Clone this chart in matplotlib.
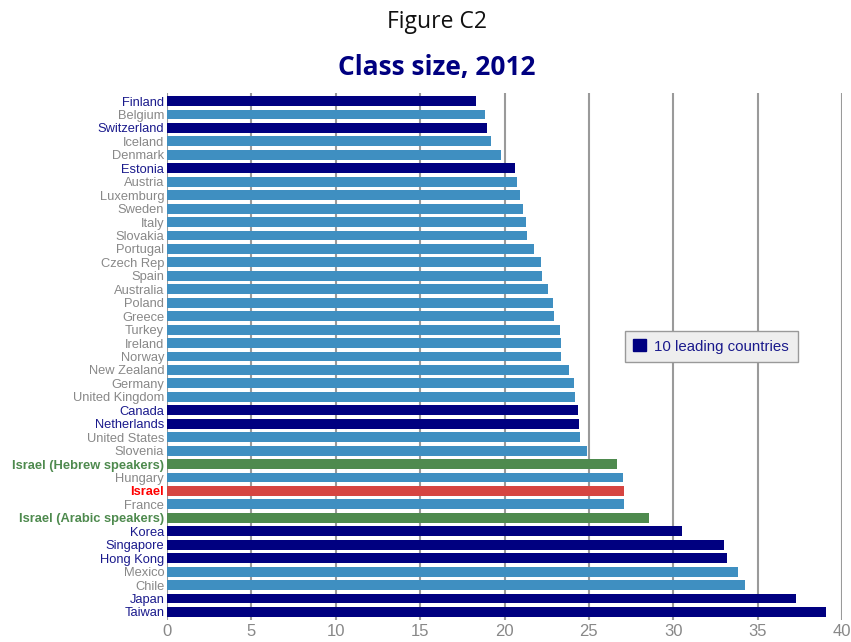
import matplotlib
matplotlib.use("Agg")
import matplotlib.pyplot as plt
from matplotlib.patches import Patch

countries = ["Finland", "Belgium", "Switzerland", "Iceland", "Denmark", "Estonia",
             "Austria", "Luxemburg", "Sweden", "Italy", "Slovakia", "Portugal",
             "Czech Rep", "Spain", "Australia", "Poland", "Greece", "Turkey",
             "Ireland", "Norway", "New Zealand", "Germany", "United Kingdom",
             "Canada", "Netherlands", "United States", "Slovenia",
             "Israel (Hebrew speakers)", "Hungary", "Israel", "France",
             "Israel (Arabic speakers)", "Korea", "Singapore", "Hong Kong",
             "Mexico", "Chile", "Japan", "Taiwan"]
class_size = [18.3, 18.85, 18.95, 19.2, 19.8, 20.6,
              20.75, 20.9, 21.1, 21.3, 21.35, 21.75,
              22.15, 22.2, 22.6, 22.85, 22.95, 23.3,
              23.35, 23.35, 23.8, 24.1, 24.2,
              24.35, 24.4, 24.45, 24.9,
              26.65, 27.0, 27.1, 27.1,
              28.55, 30.5, 33.0, 33.2,
              33.85, 34.25, 37.3, 39.05]
leading = ["Finland", "Switzerland", "Estonia", "Canada", "Netherlands",
           "Korea", "Singapore", "Hong Kong", "Japan", "Taiwan"]
israel_groups = ["Israel (Hebrew speakers)", "Israel (Arabic speakers)"]
x_ticks = [0, 5, 10, 15, 20, 25, 30, 35, 40]

NAVY = "#000080"
BLUE = "#3f8fc1"
GREEN = "#4e8a4e"
RED = "#d64541"
GREY = "#888888"

bar_colors, label_colors, label_weights = [], [], []
for c in countries:
    if c in leading:
        bar_colors.append(NAVY); label_colors.append("#1a1a8c"); label_weights.append("normal")
    elif c in israel_groups:
        bar_colors.append(GREEN); label_colors.append(GREEN); label_weights.append("bold")
    elif c == "Israel":
        bar_colors.append(RED); label_colors.append("#ff0000"); label_weights.append("bold")
    else:
        bar_colors.append(BLUE); label_colors.append(GREY); label_weights.append("normal")

fig = plt.figure(figsize=(8.51, 6.42), dpi=100)
ax = fig.add_axes([167 / 851, 1 - 620 / 642, (842 - 167) / 851, (620 - 93) / 642])

pos = list(range(len(countries)))
ax.barh(pos, class_size, height=0.74, color=bar_colors, zorder=2)

ax.set_xlim(0, 40)
ax.set_ylim(len(countries) - 0.4, -0.6)
ax.set_xticks(x_ticks)
ax.set_xticklabels([str(t) for t in x_ticks])
ax.set_yticks(pos)
ax.set_yticklabels(countries, fontfamily="Liberation Sans", fontsize=9.3)
for lbl, col, w in zip(ax.get_yticklabels(), label_colors, label_weights):
    lbl.set_color(col)
    lbl.set_fontweight(w)

ax.tick_params(axis="y", length=0, pad=2)
ax.tick_params(axis="x", length=0, pad=3, labelsize=12, labelcolor=GREY)
for lbl in ax.get_xticklabels():
    lbl.set_fontfamily("Liberation Sans")

for s in ax.spines.values():
    s.set_visible(False)
for t in x_ticks:
    ax.axvline(t, color="#9a9a9a", lw=1.5, zorder=1)

leg = ax.legend(handles=[Patch(facecolor=NAVY, edgecolor=NAVY, label="10 leading countries")],
                loc="center", bbox_to_anchor=(711 / 851, 1 - 346.5 / 642),
                bbox_transform=fig.transFigure, fancybox=False, framealpha=1,
                facecolor="#eeeeee", edgecolor="#999999", handlelength=0.85,
                handleheight=0.85, handletextpad=0.6, borderpad=0.55,
                prop={"family": "Liberation Sans", "size": 10.8})
leg.get_frame().set_linewidth(1.0)
for txt in leg.get_texts():
    txt.set_color("#1a1a8c")

fig.text(437 / 851, 1 - 22 / 642, "Figure C2", ha="center", va="center",
         fontfamily="Open Sans", fontsize=16.5, color="#111111")
fig.text(437 / 851, 1 - 68 / 642, "Class size, 2012", ha="center", va="center",
         fontfamily="Open Sans", fontweight="bold", fontsize=19, color=NAVY)

fig.savefig("out.png", dpi=100)
